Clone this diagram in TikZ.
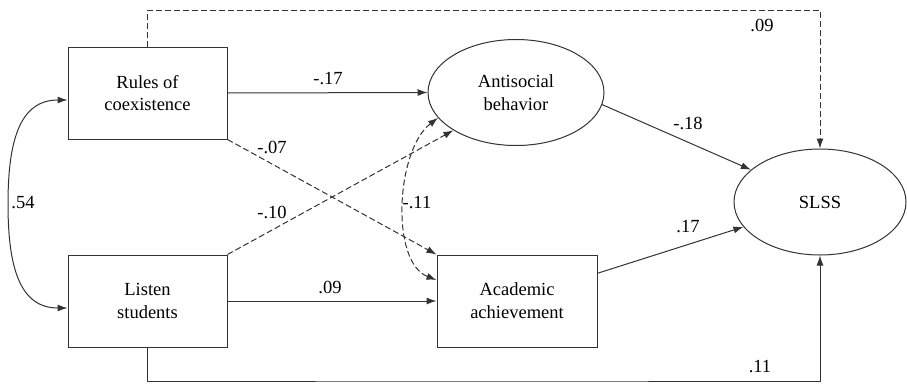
\documentclass[tikz,border=0pt]{standalone}
\usepackage{fontspec}
\setmainfont{Liberation Serif}
\usepackage{tikz}
\usetikzlibrary{shapes,arrows.meta,positioning}

\begin{document}
\begin{tikzpicture}[x=1pt,y=-1pt,
    every node/.style={font=\rmfamily\fontsize{18.5}{22.7}\selectfont},
    box/.style={draw=black!80,line width=1pt,rectangle,minimum width=159pt,minimum height=92pt,align=center},
    latent/.style={draw=black!80,line width=1pt,ellipse,minimum width=174pt,minimum height=106pt,align=center,inner sep=0pt},
    effect/.style={draw=black!80,line width=1pt,-{Latex[length=10pt,width=7pt]}},
    weak/.style={effect,dash pattern=on 6pt off 3pt},
    coef/.style={inner sep=1pt}]
            \useasboundingbox (0,0) rectangle (907,383);

            % the observed variables
            \node[box] (rules) at (147.5,93) {Rules of\\coexistence};
            \node[box] (listen) at (147.5,301) {Listen\\students};
            \node[box,minimum width=160pt] (acad) at (517,301) {Academic\\achievement};

            % the latent variables
            \node[latent,minimum width=176pt] (anti) at (516,92.5) {Antisocial\\behavior};
            \node[latent,minimum width=172pt] (slss) at (820,202) {SLSS};

            % the corner points of the long paths
            \coordinate (top) at (480,10);
            \coordinate (bottom) at (480,381);

            % the paths
            \draw[effect] (rules.east) -- (anti.west);
            \draw[effect] (listen.east) -- (acad.west);
            \draw[weak] (rules.south east) -- (acad.north west);
            \draw[weak] (listen.north east) -- (anti.south west);
            \draw[effect] (anti.-8) -- (slss.155);
            \draw[effect] (acad.19) -- (slss.198);
            \draw[weak] (rules.north) |- (top) -| (slss.north);
            \draw[effect] (listen.south) |- (bottom) -| (slss.south);

            % the correlations
            \draw[effect,{Latex[length=10pt,width=7pt]}-{Latex[length=10pt,width=7pt]}]
              ([yshift=-7pt]rules.west) .. controls (20,100) and (8,140) .. (8,204)
              .. controls (8,268) and (20,308) .. ([yshift=-7pt]listen.west);
            \draw[weak,{Latex[length=10pt,width=7pt]}-{Latex[length=10pt,width=7pt]}]
              (anti.198) .. controls (396,150) and (390,262) .. ([yshift=21pt]acad.west);

            % the coefficients
            \node[coef] (c1) at (328,79) {-.17};
            \node[coef] (c2) at (272,147) {-.07};
            \node[coef] (c3) at (272,212) {-.10};
            \node[coef] (c4) at (330,287) {.09};
            \node[coef] (c5) at (417,203) {-.11};
            \node[coef] (c6) at (688,123) {-.18};
            \node[coef] (c7) at (688,227) {.17};
            \node[coef] (c8) at (760,367) {.11};
            \node[coef] (c9) at (762,25) {.09};
            \node[coef] (c10) at (23,203) {.54};
        \end{tikzpicture}
\end{document}
